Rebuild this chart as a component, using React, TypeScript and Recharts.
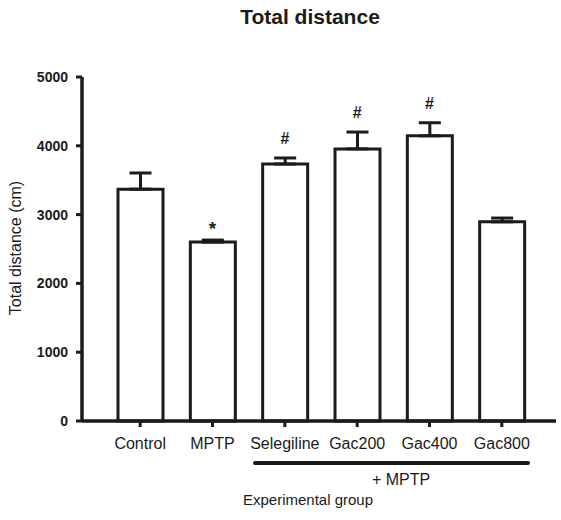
import React from "react";
import { ComposedChart, Bar, ErrorBar, Scatter, XAxis, YAxis } from "recharts";

// Total distance per experimental group, mean + SEM, with significance marks.
const groups = ["Control", "MPTP", "Selegiline", "Gac200", "Gac400", "Gac800"];
const means = [3370, 2600, 3735, 3955, 4145, 2895];
const sems = [235, 30, 88, 245, 190, 55];
const marks = ["", "*", "#", "#", "#", ""];
const yTicks = [0, 1000, 2000, 3000, 4000, 5000];

const data = groups.map((g, i) => ({
  group: g,
  mean: means[i],
  err: [0, sems[i]],
  mark: marks[i],
  markY: marks[i] ? means[i] + sems[i] : null,
}));

const FONT = '"Liberation Sans", Arial, Helvetica, sans-serif';
const INK = "#1b1b1b";

function MarkShape(props: any) {
  const { cx, cy, payload } = props;
  if (!payload?.mark || !isFinite(cy)) return <g />;
  const star = payload.mark === "*";
  return (
    <text
      x={cx}
      y={cy - (star ? 5 : 14)}
      textAnchor="middle"
      fontFamily={FONT}
      fontWeight="bold"
      fontSize={star ? 19 : 16}
      fill={INK}
    >
      {payload.mark}
    </text>
  );
}

export default function App() {
  return (
    <div style={{ position: "absolute", left: 0, top: 0, width: 561, height: 520, background: "#fff" }}>
      <ComposedChart
        width={561}
        height={520}
        data={data}
        margin={{ top: 77, right: 5, bottom: 69, left: 22 }}
      >
        <XAxis
          dataKey="group"
          padding={{ left: 22, right: 18 }}
          axisLine={{ stroke: INK, strokeWidth: 3.5 }}
          tickLine={{ stroke: INK, strokeWidth: 3 }}
          tickSize={6}
          tickMargin={11}
          height={30}
          tick={{ fontFamily: FONT, fontSize: 16, fill: INK }}
          interval={0}
        />
        <YAxis
          domain={[0, 5000]}
          ticks={yTicks}
          width={60}
          axisLine={{ stroke: INK, strokeWidth: 3.5 }}
          tickLine={{ stroke: INK, strokeWidth: 3 }}
          tickSize={6}
          tickMargin={8}
          tick={{ fontFamily: FONT, fontSize: 14, fontWeight: "bold", fill: INK }}
        />
        <Bar
          dataKey="mean"
          barSize={45}
          fill="#fff"
          stroke={INK}
          strokeWidth={3}
          isAnimationActive={false}
        >
          <ErrorBar dataKey="err" direction="y" width={11} stroke={INK} strokeWidth={3} />
        </Bar>
        <Scatter dataKey="markY" shape={<MarkShape />} isAnimationActive={false} />
      </ComposedChart>
      <svg
        width={561}
        height={520}
        style={{ position: "absolute", left: 0, top: 0, pointerEvents: "none" }}
        fontFamily={FONT}
      >
        <text x={310} y={24} textAnchor="middle" fontWeight="bold" fontSize={21} fill={INK}>
          Total distance
        </text>
        <text
          transform="translate(21,248) rotate(-90)"
          textAnchor="middle"
          fontSize={16}
          fill={INK}
        >
          Total distance (cm)
        </text>
        <line x1={255} x2={528} y1={463} y2={463} stroke={INK} strokeWidth={4} strokeLinecap="round" />
        <text x={401} y={485} textAnchor="middle" fontSize={16} fill={INK}>
          + MPTP
        </text>
        <text x={308} y={505} textAnchor="middle" fontSize={15} fill={INK}>
          Experimental group
        </text>
      </svg>
    </div>
  );
}
